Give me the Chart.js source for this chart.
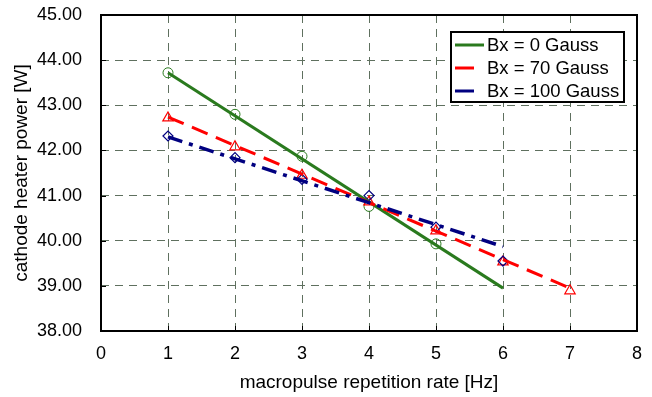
<!DOCTYPE html>
<html>
<head>
<meta charset="utf-8">
<script src="https://cdn.jsdelivr.net/npm/chart.js@4.4.1/dist/chart.umd.min.js"></script>
<style>
  html, body { margin: 0; padding: 0; background: #ffffff; }
  #wrap { width: 652px; height: 397px; position: relative; }
</style>
</head>
<body>
<div id="wrap"><canvas id="c" width="652" height="397"></canvas></div>
<script>
// ---- data ----
const seriesLabels = ['Bx = 0 Gauss', 'Bx = 70 Gauss', 'Bx = 100 Gauss'];
const xBx0 = [1, 2, 3, 4, 5];
const yBx0 = [43.72, 42.80, 41.87, 40.76, 39.93];
const xBx70 = [1, 2, 3, 4, 5, 6, 7];
const yBx70 = [42.72, 42.08, 41.45, 40.86, 40.22, 39.53, 38.89];
const xBx100 = [1, 2, 3, 4, 5, 6];
const yBx100 = [42.32, 41.84, 41.36, 41.00, 40.30, 39.55];
// fitted trend lines (end points)
const fitXBx0 = [1, 6];   const fitYBx0 = [43.72, 38.95];
const fitXBx70 = [1, 7];  const fitYBx70 = [42.74, 38.95];
const fitXBx100 = [1, 6]; const fitYBx100 = [42.30, 39.87];
const xTicks = [0, 1, 2, 3, 4, 5, 6, 7, 8];
const yTicks = [38, 39, 40, 41, 42, 43, 44, 45];

const GREEN = '#2a7a1e', RED = '#ff0000', NAVY = '#000080';
const pts = (xs, ys) => xs.map((x, i) => ({ x: x, y: ys[i] }));

const fontFam = '"Liberation Sans", Arial, sans-serif';

const innerTicks = {
  id: 'innerTicks',
  afterDraw(chart) {
    const ctx = chart.ctx, xs = chart.scales.x, ys = chart.scales.y, a = chart.chartArea;
    ctx.save();
    ctx.strokeStyle = '#000'; ctx.lineWidth = 1;
    xTicks.forEach(v => { const px = Math.round(xs.getPixelForValue(v)) + 0.5;
      ctx.beginPath(); ctx.moveTo(px, a.bottom); ctx.lineTo(px, a.bottom - 5); ctx.stroke(); });
    yTicks.forEach(v => { const py = Math.round(ys.getPixelForValue(v)) + 0.5;
      ctx.beginPath(); ctx.moveTo(a.left, py); ctx.lineTo(a.left + 5, py); ctx.stroke(); });
    ctx.lineWidth = 2;
    ctx.strokeRect(a.left, a.top, a.right - a.left, a.bottom - a.top);
    // legend
    const lx = 451, ly = 32, lw = 173, lh = 70;
    ctx.fillStyle = '#fff'; ctx.fillRect(lx, ly, lw, lh);
    ctx.strokeStyle = '#000'; ctx.lineWidth = 2; ctx.strokeRect(lx, ly, lw, lh);
    const legendDs = [0, 1, 2];
    const sampleW = [29, 19, 19];
    ctx.font = '18.5px ' + fontFam; ctx.textBaseline = 'middle'; ctx.textAlign = 'left';
    legendDs.forEach((di, i) => {
      const ds = chart.data.datasets[di];
      const yy = ly + 13 + i * 23;
      ctx.strokeStyle = ds.borderColor; ctx.lineWidth = 3; ctx.setLineDash([]);
      ctx.beginPath(); ctx.moveTo(lx + 4, yy); ctx.lineTo(lx + 4 + sampleW[i], yy); ctx.stroke();
      ctx.fillStyle = '#000';
      ctx.fillText(ds.label, lx + 36, yy + 1);
    });
    ctx.restore();
  }
};

new Chart(document.getElementById('c'), {
  type: 'scatter',
  data: {
    datasets: [
      { label: seriesLabels[0], data: pts(fitXBx0, fitYBx0), showLine: true, borderColor: GREEN, borderWidth: 3, pointRadius: 0, order: 3 },
      { label: seriesLabels[1], data: pts(fitXBx70, fitYBx70), showLine: true, borderColor: RED, borderWidth: 3, borderDash: [17, 9], pointRadius: 0, order: 2 },
      { label: seriesLabels[2], data: pts(fitXBx100, fitYBx100), showLine: true, borderColor: NAVY, borderWidth: 3.5, borderDash: [15, 7, 4, 7], pointRadius: 0, order: 1 },
      { label: 'p0', data: pts(xBx0, yBx0), showLine: false, pointStyle: 'circle', pointRadius: 5, borderColor: GREEN, borderWidth: 1, backgroundColor: 'rgba(0,0,0,0)', order: 6 },
      { label: 'p70', data: pts(xBx70, yBx70), showLine: false, pointStyle: 'triangle', pointRadius: 6, borderColor: RED, borderWidth: 1.2, backgroundColor: 'rgba(0,0,0,0)', order: 5 },
      { label: 'p100', data: pts(xBx100, yBx100), showLine: false, pointStyle: 'rectRot', pointRadius: 5, borderColor: NAVY, borderWidth: 1.2, backgroundColor: 'rgba(0,0,0,0)', order: 4 }
    ]
  },
  options: {
    responsive: false,
    animation: false,
    layout: { padding: { left: 0, right: 15, top: 15, bottom: 0 } },
    plugins: { legend: { display: false }, tooltip: { enabled: false } },
    scales: {
      x: {
        type: 'linear', min: 0, max: 8,
        afterBuildTicks: s => { s.ticks = xTicks.map(v => ({ value: v })); },
        afterFit: s => { s.height = 66; s.paddingLeft = 0; s.paddingRight = 0; },
        grid: { color: '#5f705f', lineWidth: 1, tickLength: 0, drawTicks: false },
        border: { display: false, dash: [8, 6] },
        ticks: { color: '#000', font: { family: fontFam, size: 18 }, padding: 12, callback: v => String(v) },
        title: { display: true, text: 'macropulse repetition rate [Hz]', color: '#000', font: { family: fontFam, size: 19 }, padding: { top: 6, bottom: 3 } }
      },
      y: {
        type: 'linear', min: 38, max: 45,
        afterBuildTicks: s => { s.ticks = yTicks.map(v => ({ value: v })); },
        afterFit: s => { s.width = 101; s.paddingTop = 0; s.paddingBottom = 0; },
        grid: { color: '#5f705f', lineWidth: 1, drawTicks: false },
        border: { display: false, dash: [8, 6] },
        ticks: { color: '#000', font: { family: fontFam, size: 18 }, padding: 19, callback: v => v.toFixed(2) },
        title: { display: true, text: 'cathode heater power [W]', color: '#000', font: { family: fontFam, size: 19 }, padding: { top: 10, bottom: 3 } }
      }
    }
  },
  plugins: [innerTicks]
});
</script>
</body>
</html>
